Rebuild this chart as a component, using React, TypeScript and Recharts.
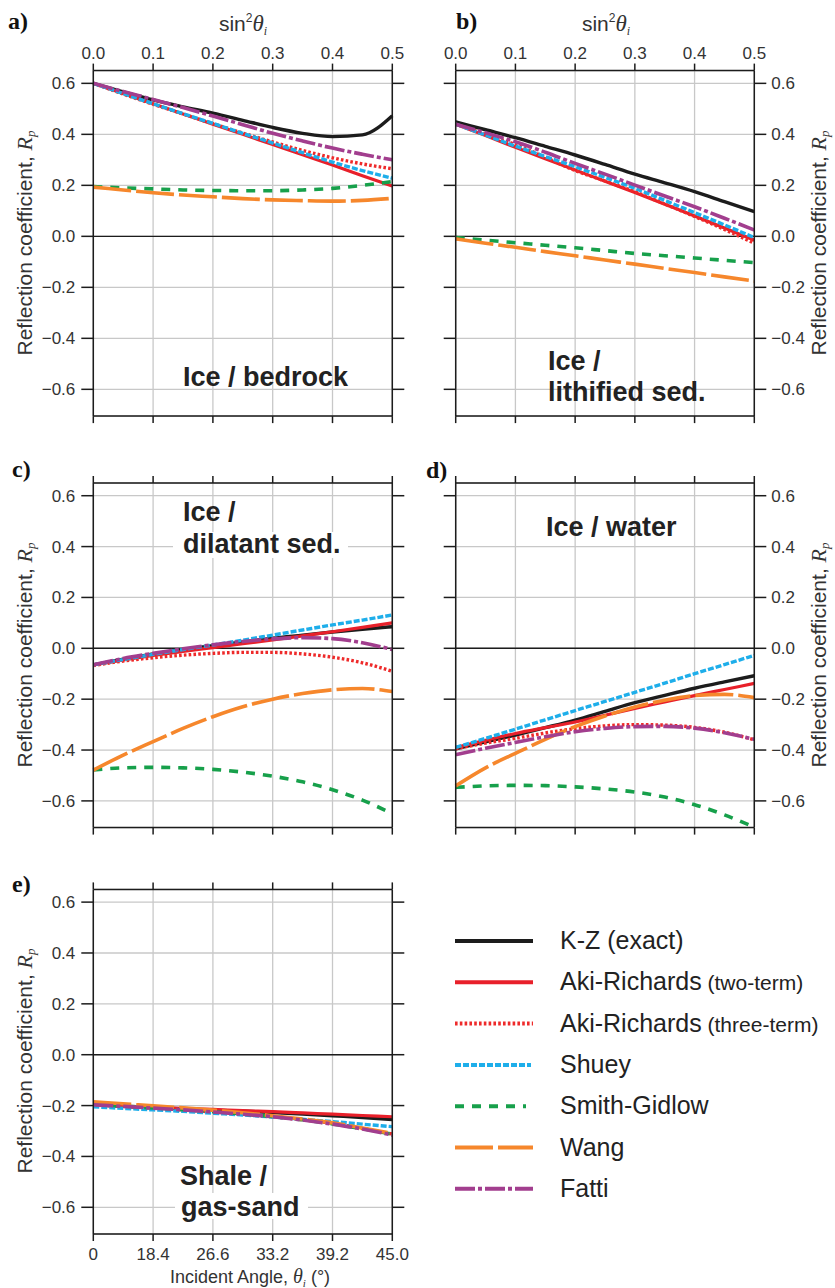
import { LineChart, Line, XAxis, YAxis, CartesianGrid, ReferenceLine } from 'recharts';

const FONT = '"Liberation Sans", Arial, Helvetica, sans-serif';
const SERIF = '"Liberation Serif", "Times New Roman", serif';

// x = sin^2(theta_i)
const sin2 = [0, 0.05, 0.1, 0.15, 0.2, 0.25, 0.3, 0.35, 0.4, 0.45, 0.5];
const xTicks = [0, 0.1, 0.2, 0.3, 0.4, 0.5];
const angleLabels = ['0', '18.4', '26.6', '33.2', '39.2', '45.0'];
const yTicks = [-0.6, -0.4, -0.2, 0, 0.2, 0.4, 0.6];

// a) ice / bedrock
const aKZ = [0.6, 0.567, 0.535, 0.508, 0.483, 0.455, 0.427, 0.404, 0.391, 0.398, 0.473];
const aAR2 = [0.6, 0.56, 0.52, 0.48, 0.44, 0.4, 0.36, 0.32, 0.28, 0.238, 0.197];
const aAR3 = [0.6, 0.558, 0.518, 0.48, 0.442, 0.405, 0.37, 0.337, 0.308, 0.284, 0.265];
const aShuey = [0.6, 0.56, 0.52, 0.481, 0.443, 0.404, 0.366, 0.328, 0.291, 0.258, 0.228];
const aSG = [0.195, 0.19, 0.186, 0.182, 0.18, 0.179, 0.179, 0.182, 0.188, 0.2, 0.215];
const aWang = [0.193, 0.182, 0.171, 0.162, 0.155, 0.148, 0.143, 0.14, 0.138, 0.141, 0.149];
const aFatti = [0.6, 0.568, 0.537, 0.505, 0.472, 0.438, 0.404, 0.374, 0.346, 0.322, 0.3];

// b) ice / lithified sed.
const bKZ = [0.449, 0.418, 0.387, 0.353, 0.319, 0.282, 0.244, 0.21, 0.175, 0.136, 0.097];
const bAR2 = [0.44, 0.395, 0.349, 0.304, 0.26, 0.216, 0.172, 0.126, 0.08, 0.033, -0.015];
const bAR3 = [0.44, 0.4, 0.36, 0.31, 0.258, 0.217, 0.175, 0.127, 0.078, 0.027, -0.027];
const bShuey = [0.44, 0.397, 0.354, 0.313, 0.273, 0.231, 0.188, 0.141, 0.093, 0.045, -0.005];
const bSG = [-0.005, -0.015, -0.025, -0.035, -0.045, -0.056, -0.067, -0.076, -0.085, -0.094, -0.103];
const bWang = [-0.01, -0.027, -0.043, -0.06, -0.076, -0.093, -0.109, -0.126, -0.142, -0.159, -0.175];
const bFatti = [0.44, 0.406, 0.371, 0.33, 0.286, 0.244, 0.201, 0.158, 0.116, 0.071, 0.025];

// c) ice / dilatant sed.
const cKZ = [-0.065, -0.043, -0.022, -0.005, 0.01, 0.025, 0.04, 0.052, 0.064, 0.075, 0.085];
const cAR2 = [-0.065, -0.046, -0.028, -0.012, 0.003, 0.018, 0.033, 0.049, 0.065, 0.082, 0.1];
const cAR3 = [-0.068, -0.05, -0.037, -0.027, -0.02, -0.016, -0.016, -0.022, -0.035, -0.057, -0.09];
const cShuey = [-0.065, -0.044, -0.024, -0.005, 0.013, 0.032, 0.052, 0.072, 0.092, 0.111, 0.131];
const cSG = [-0.478, -0.47, -0.468, -0.47, -0.476, -0.487, -0.503, -0.525, -0.556, -0.597, -0.65];
const cWang = [-0.479, -0.42, -0.367, -0.315, -0.269, -0.23, -0.2, -0.178, -0.163, -0.158, -0.17];
const cFatti = [-0.065, -0.04, -0.02, -0.002, 0.014, 0.027, 0.037, 0.042, 0.038, 0.022, -0.005];

// d) ice / water
const dKZ = [-0.395, -0.368, -0.341, -0.312, -0.282, -0.248, -0.214, -0.185, -0.157, -0.132, -0.108];
const dAR2 = [-0.39, -0.362, -0.335, -0.312, -0.29, -0.263, -0.236, -0.211, -0.186, -0.162, -0.138];
const dAR3 = [-0.395, -0.373, -0.354, -0.333, -0.316, -0.305, -0.3, -0.302, -0.311, -0.33, -0.36];
const dShuey = [-0.39, -0.354, -0.318, -0.281, -0.245, -0.209, -0.173, -0.137, -0.1, -0.064, -0.028];
const dSG = [-0.547, -0.541, -0.539, -0.54, -0.545, -0.553, -0.565, -0.585, -0.615, -0.655, -0.703];
const dWang = [-0.541, -0.47, -0.413, -0.358, -0.308, -0.266, -0.231, -0.204, -0.186, -0.181, -0.194];
const dFatti = [-0.418, -0.393, -0.37, -0.348, -0.328, -0.315, -0.308, -0.307, -0.314, -0.332, -0.358];

// e) shale / gas-sand
const eKZ = [-0.197, -0.203, -0.208, -0.213, -0.218, -0.222, -0.227, -0.233, -0.24, -0.247, -0.255];
const eAR2 = [-0.197, -0.202, -0.207, -0.211, -0.215, -0.22, -0.224, -0.229, -0.234, -0.239, -0.244];
const eAR3 = [-0.197, -0.203, -0.21, -0.217, -0.225, -0.234, -0.244, -0.256, -0.27, -0.29, -0.312];
const eShuey = [-0.205, -0.211, -0.217, -0.223, -0.23, -0.237, -0.245, -0.254, -0.263, -0.273, -0.283];
const eSG = [-0.195, -0.202, -0.209, -0.216, -0.224, -0.233, -0.243, -0.256, -0.272, -0.291, -0.313];
const eWang = [-0.185, -0.193, -0.201, -0.209, -0.218, -0.228, -0.24, -0.253, -0.268, -0.288, -0.31];
const eFatti = [-0.197, -0.203, -0.21, -0.217, -0.225, -0.234, -0.244, -0.257, -0.273, -0.292, -0.316];

const SERIES = [
  { key: 'kz', name: 'K-Z', note: ' (exact)', color: '#1c1c1c', width: 3.4, dash: undefined, legW: 78 },
  { key: 'ar2', name: 'Aki-Richards', note: ' (two-term)', color: '#e8202a', width: 3.2, dash: undefined, legW: 78 },
  { key: 'ar3', name: 'Aki-Richards', note: ' (three-term)', color: '#ee2a2a', width: 3.4, dash: '2.6 2.2', legW: 78 },
  { key: 'shuey', name: 'Shuey', note: '', color: '#1eaeea', width: 3.4, dash: '6 2', legW: 76 },
  { key: 'sg', name: 'Smith-Gidlow', note: '', color: '#17a04b', width: 3.6, dash: '9 8', legW: 71 },
  { key: 'wang', name: 'Wang', note: '', color: '#f6872c', width: 3.6, dash: '38 5', legW: 78 },
  { key: 'fatti', name: 'Fatti', note: '', color: '#a23e8e', width: 3.6, dash: '20 3 4 3', legW: 78 },
];

function build(kz, ar2, ar3, shuey, sg, wang, fatti) {
  return sin2.map((x, i) => ({ x, kz: kz[i], ar2: ar2[i], ar3: ar3[i], shuey: shuey[i], sg: sg[i], wang: wang[i], fatti: fatti[i] }));
}

const yFmt = (v) => (Math.abs(v) < 1e-9 ? '0.0' : (v < 0 ? '\u2212' : '') + Math.abs(v).toFixed(1));
const sinFmt = (v) => v.toFixed(1);
const angFmt = (v) => angleLabels[Math.round(v * 10)];

const tickStyle = { fontSize: 17, fill: '#333', fontFamily: FONT };
const noTick = () => <g />;
const lineStyle = { stroke: '#1c1c1c', strokeWidth: 1.5 };
const Y_DOMAIN = [-0.705, 0.65];

function Panel({ p, data }) {
  return (
    <div style={{ position: 'absolute', left: p.left, top: p.top, width: p.w, height: p.h }}>
      <LineChart width={p.w} height={p.h} data={data} margin={{ top: 0, right: 0, bottom: 0, left: 0 }}>
        <CartesianGrid stroke="#c8c8c8" strokeWidth={1.3} />
        <ReferenceLine y={0} stroke="#1c1c1c" strokeWidth={1.4} />
        <XAxis type="number" dataKey="x" domain={[0, 0.5]} ticks={xTicks} height={p.xb}
          tick={p.angles ? tickStyle : noTick} tickFormatter={angFmt} tickSize={7} tickMargin={7}
          axisLine={lineStyle} tickLine={lineStyle} />
        <XAxis xAxisId="top" orientation="top" type="number" dataKey="x" domain={[0, 0.5]} ticks={xTicks} height={p.xt}
          tick={p.sinTop ? tickStyle : noTick} tickFormatter={sinFmt} tickSize={7} tickMargin={5}
          axisLine={lineStyle} tickLine={lineStyle} />
        <YAxis type="number" domain={Y_DOMAIN} allowDataOverflow ticks={yTicks} width={p.yl}
          tick={p.labelRight ? noTick : tickStyle} tickFormatter={yFmt} tickSize={12} tickMargin={6}
          axisLine={lineStyle} tickLine={lineStyle} />
        <YAxis yAxisId="right" orientation="right" type="number" domain={Y_DOMAIN} allowDataOverflow ticks={yTicks} width={p.yr}
          tick={p.labelRight ? tickStyle : noTick} tickFormatter={yFmt} tickSize={12} tickMargin={5}
          axisLine={lineStyle} tickLine={lineStyle} />
        {SERIES.map((s) => (
          <Line key={s.key} type="monotone" dataKey={s.key} stroke={s.color} strokeWidth={s.width}
            strokeDasharray={s.dash} dot={false} activeDot={false} isAnimationActive={false} />
        ))}
      </LineChart>
    </div>
  );
}

const PANELS = [
  { id: 'a', left: 0, top: 0, w: 420, h: 440, yl: 93.3, yr: 27.7, xt: 70.6, xb: 23.9, sinTop: true, angles: false, labelRight: false,
    data: build(aKZ, aAR2, aAR3, aShuey, aSG, aWang, aFatti) },
  { id: 'b', left: 420, top: 0, w: 415, h: 440, yl: 35.7, yr: 80.7, xt: 70.6, xb: 23.9, sinTop: true, angles: false, labelRight: true,
    data: build(bKZ, bAR2, bAR3, bShuey, bSG, bWang, bFatti) },
  { id: 'c', left: 0, top: 440, w: 420, h: 410, yl: 93.3, yr: 27.7, xt: 43, xb: 22.4, sinTop: false, angles: false, labelRight: false,
    data: build(cKZ, cAR2, cAR3, cShuey, cSG, cWang, cFatti) },
  { id: 'd', left: 420, top: 440, w: 415, h: 410, yl: 35.7, yr: 80.7, xt: 43, xb: 22.4, sinTop: false, angles: false, labelRight: true,
    data: build(dKZ, dAR2, dAR3, dShuey, dSG, dWang, dFatti) },
  { id: 'e', left: 0, top: 850, w: 420, h: 438, yl: 93.3, yr: 27.7, xt: 39.4, xb: 54, sinTop: false, angles: true, labelRight: false,
    data: build(eKZ, eAR2, eAR3, eShuey, eSG, eWang, eFatti) },
];

function YTitle({ x, y }) {
  return (
    <text transform={`translate(${x},${y}) rotate(-90)`} textAnchor="middle" fontSize={21} fill="#333" fontFamily={FONT}>
      {'Reflection coefficient, '}
      <tspan fontFamily={SERIF} fontStyle="italic" fontSize={22}>R</tspan>
      <tspan fontFamily={SERIF} fontStyle="italic" fontSize={13} dy={3}>p</tspan>
    </text>
  );
}

function SinTitle({ x }) {
  return (
    <text x={x} y={31} textAnchor="middle" fontSize={21} fill="#333" fontFamily={FONT}>
      sin
      <tspan fontSize={12} dy={-9}>2</tspan>
      <tspan fontFamily={SERIF} fontStyle="italic" fontSize={23} dy={9}>θ</tspan>
      <tspan fontFamily={SERIF} fontStyle="italic" fontSize={12} dy={4}>i</tspan>
    </text>
  );
}

const tagStyle = { fontFamily: SERIF, fontWeight: 'bold', fontSize: 24, fill: '#111' };
const noteStyle = { fontFamily: FONT, fontWeight: 'bold', fontSize: 27, fill: '#222' };

function Overlay() {
  return (
    <svg width={835} height={1288} style={{ position: 'absolute', left: 0, top: 0, pointerEvents: 'none' }}>
      <text x={8} y={29} {...tagStyle}>a)</text>
      <text x={456} y={29} {...tagStyle}>b)</text>
      <text x={12} y={477} {...tagStyle}>c)</text>
      <text x={426} y={478} {...tagStyle}>d)</text>
      <text x={12} y={892} {...tagStyle}>e)</text>

      <SinTitle x={243} />
      <SinTitle x={606} />
      <YTitle x={32} y={243} />
      <YTitle x={826} y={243} />
      <YTitle x={32} y={655} />
      <YTitle x={826} y={655} />
      <YTitle x={32} y={1061} />
      <text x={250} y={1283} textAnchor="middle" fontSize={18} fill="#333" fontFamily={FONT}>
        {'Incident Angle, '}
        <tspan fontFamily={SERIF} fontStyle="italic" fontSize={20}>θ</tspan>
        <tspan fontFamily={SERIF} fontStyle="italic" fontSize={11} dy={4}>i</tspan>
        <tspan dy={-4}>{' (°)'}</tspan>
      </text>

      <text x={183} y={386} {...noteStyle}>Ice / bedrock</text>
      <text x={548} y={370} {...noteStyle}>Ice /</text>
      <text x={548} y={401} {...noteStyle}>lithified sed.</text>
      <rect x={173} y={532} width={175} height={26} fill="#fff" />
      <text x={183} y={521} {...noteStyle}>Ice /</text>
      <text x={183} y={553} {...noteStyle}>dilatant sed.</text>
      <text x={546} y={536} {...noteStyle}>Ice / water</text>
      <rect x={175} y={1193} width={133} height={26} fill="#fff" />
      <text x={180} y={1185} {...noteStyle}>Shale /</text>
      <text x={181} y={1216} {...noteStyle}>gas-sand</text>

      {SERIES.map((s, i) => {
        const y = 941 + i * 41.3;
        return (
          <g key={s.key}>
            <line x1={455} x2={455 + s.legW} y1={y} y2={y} stroke={s.color} strokeWidth={4} strokeDasharray={s.dash} />
            <text x={560} y={y + 8} fontSize={25} fill="#222" fontFamily={FONT}>
              {s.name}
              {s.key === 'kz' ? <tspan>{s.note}</tspan> : <tspan fontSize={21}>{s.note}</tspan>}
            </text>
          </g>
        );
      })}
    </svg>
  );
}

export default function App() {
  return (
    <div style={{ position: 'absolute', left: 0, top: 0, width: 835, height: 1288, background: '#fff' }}>
      {PANELS.map((p) => (
        <Panel key={p.id} p={p} data={p.data} />
      ))}
      <Overlay />
    </div>
  );
}
